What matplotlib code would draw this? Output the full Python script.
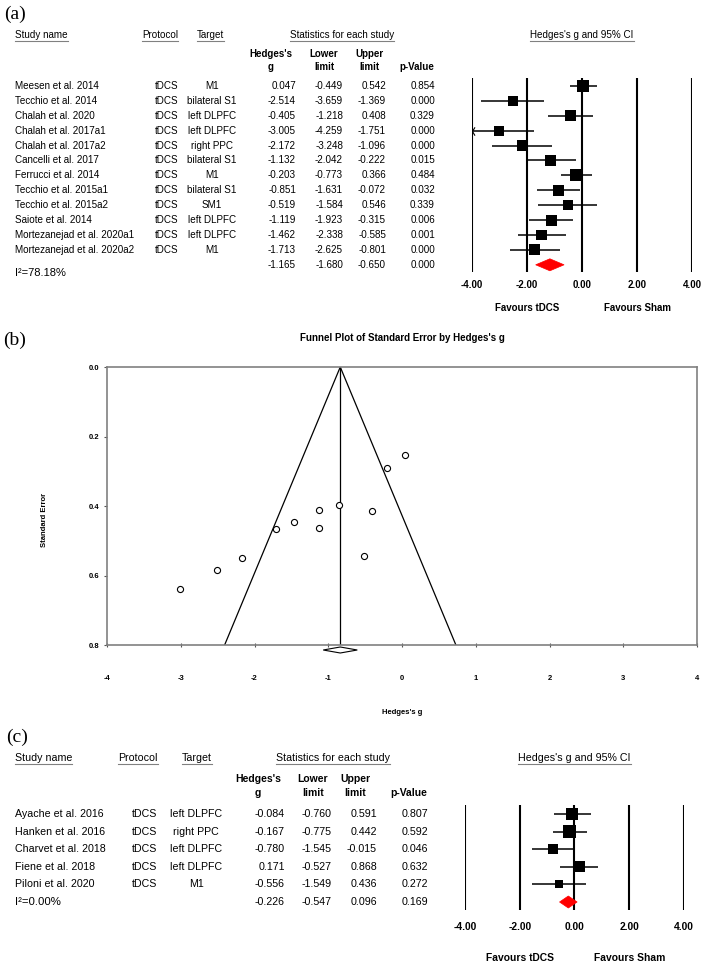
import numpy as np
import matplotlib
matplotlib.use("Agg")
import matplotlib.pyplot as plt
from matplotlib.path import Path
from matplotlib.patches import Polygon
from matplotlib.lines import Line2D

plt.rcParams['font.family'] = ['Liberation Sans', 'DejaVu Sans']

# ---------------- data: panel (a) ----------------
a_studies = ["Meesen et al. 2014", "Tecchio et al. 2014", "Chalah et al. 2020",
             "Chalah et al. 2017a1", "Chalah et al. 2017a2", "Cancelli et al. 2017",
             "Ferrucci et al. 2014", "Tecchio et al. 2015a1", "Tecchio et al. 2015a2",
             "Saiote et al. 2014", "Mortezanejad et al. 2020a1", "Mortezanejad et al. 2020a2"]
a_protocol = ["tDCS"] * 12
a_target = ["M1", "bilateral S1", "left DLPFC", "left DLPFC", "right PPC", "bilateral S1",
            "M1", "bilateral S1", "SM1", "left DLPFC", "left DLPFC", "M1"]
a_g = [0.047, -2.514, -0.405, -3.005, -2.172, -1.132, -0.203, -0.851, -0.519, -1.119, -1.462, -1.713]
a_lower = [-0.449, -3.659, -1.218, -4.259, -3.248, -2.042, -0.773, -1.631, -1.584, -1.923, -2.338, -2.625]
a_upper = [0.542, -1.369, 0.408, -1.751, -1.096, -0.222, 0.366, -0.072, 0.546, -0.315, -0.585, -0.801]
a_p = [0.854, 0.000, 0.329, 0.000, 0.000, 0.015, 0.484, 0.032, 0.339, 0.006, 0.001, 0.000]
a_summary = [-1.165, -1.680, -0.650, 0.000]   # g, lower, upper, p
a_i2 = "I\u00b2=78.18%"

# ---------------- data: panel (c) ----------------
c_studies = ["Ayache et al. 2016", "Hanken et al. 2016", "Charvet et al. 2018",
             "Fiene et al. 2018", "Piloni et al. 2020"]
c_protocol = ["tDCS"] * 5
c_target = ["left DLPFC", "right PPC", "left DLPFC", "left DLPFC", "M1"]
c_g = [-0.084, -0.167, -0.780, 0.171, -0.556]
c_lower = [-0.760, -0.775, -1.545, -0.527, -1.549]
c_upper = [0.591, 0.442, -0.015, 0.868, 0.436]
c_p = [0.807, 0.592, 0.046, 0.632, 0.272]
c_summary = [-0.226, -0.547, 0.096, 0.169]
c_i2 = "I\u00b2=0.00%"

forest_ticks = [-4, -2, 0, 2, 4]
favour_labels = ["Favours tDCS", "Favours Sham"]
favour_pos = [-2, 2]

funnel_xticks = [-4, -3, -2, -1, 0, 1, 2, 3, 4]
funnel_yticks = [0.0, 0.2, 0.4, 0.6, 0.8]

# ---------------- figure helpers ----------------
W, H = 707, 967
fig = plt.figure(figsize=(W / 100, H / 100), dpi=100)
underlined = []


def rect(x0, y0, x1, y1):
    return [x0 / W, 1 - y1 / H, (x1 - x0) / W, (y1 - y0) / H]


def ftext(x, y, s, underline=False, **kw):
    kw.setdefault('va', 'center')
    t = fig.text(x / W, 1 - y / H, s, **kw)
    if underline:
        underlined.append(t)
    return t


def re_weights(lower, upper):
    se = (np.array(upper) - np.array(lower)) / (2 * 1.96)
    v = se ** 2
    w = 1 / v
    return se, w


def dl_tau2(y, w):
    y = np.asarray(y)
    ybar = np.sum(w * y) / np.sum(w)
    Q = np.sum(w * (y - ybar) ** 2)
    C = np.sum(w) - np.sum(w ** 2) / np.sum(w)
    return max(0.0, (Q - (len(y) - 1)) / C)


chevron = Path([(0.6, 1), (0, 0), (0.6, -1)], [Path.MOVETO, Path.LINETO, Path.LINETO])


def forest_panel(studies, protocol, target, g, lower, upper, p, summary, i2, L):
    n = len(studies)
    r_top = (L['top'] - L['row0']) / L['step']
    r_bot = (L['bottom'] - L['row0']) / L['step']
    # table axes (x in pixel units)
    axt = fig.add_axes(rect(0, L['top'], W, L['bottom']))
    axt.set_xlim(0, W)
    axt.set_ylim(r_bot, r_top)
    axt.axis('off')
    fs = L['fs']
    for i in range(n):
        axt.text(L['name_x'], i, studies[i], ha='left', va='center', fontsize=fs)
        axt.text(L['prot_x'], i, protocol[i], ha='center', va='center', fontsize=fs)
        axt.text(L['targ_x'], i, target[i], ha='center', va='center', fontsize=fs)
        axt.text(L['g_x'], i, f"{g[i]:.3f}", ha='right', va='center', fontsize=fs)
        axt.text(L['lo_x'], i, f"{lower[i]:.3f}", ha='right', va='center', fontsize=fs)
        axt.text(L['up_x'], i, f"{upper[i]:.3f}", ha='right', va='center', fontsize=fs)
        axt.text(L['p_x'], i, f"{p[i]:.3f}", ha='right', va='center', fontsize=fs)
    for val, key in zip(summary, ['g_x', 'lo_x', 'up_x', 'p_x']):
        axt.text(L[key], n, f"{val:.3f}", ha='right', va='center', fontsize=fs)
    ftext(L['name_x'], L['i2_y'], i2, ha='left', fontsize=L['i2_fs'])

    # headers
    hy = L['head_y']
    ftext(L['name_x'], hy, "Study name", underline=True, ha='left', fontsize=fs)
    ftext(L['h_prot'], hy, "Protocol", underline=True, ha='left', fontsize=fs)
    ftext(L['h_targ'], hy, "Target", underline=True, ha='left', fontsize=fs)
    ftext(L['h_stats'], hy, "Statistics for each study", underline=True, ha='center', fontsize=fs)
    ftext((L['ax_x0'] + L['ax_x1']) / 2, hy, "Hedges's g and 95% CI", underline=True,
          ha='center', fontsize=fs)
    y1, y2 = L['ch_y1'], L['ch_y2']
    bfs = L['bfs']
    ftext(L['ch_g'], y1, "Hedges's", ha='center', fontsize=bfs, fontweight='bold')
    ftext(L['ch_g'], y2, "g", ha='center', fontsize=bfs, fontweight='bold')
    ftext(L['ch_lo'], y1, "Lower", ha='center', fontsize=bfs, fontweight='bold')
    ftext(L['ch_lo'], y2, "limit", ha='center', fontsize=bfs, fontweight='bold')
    ftext(L['ch_up'], y1, "Upper", ha='center', fontsize=bfs, fontweight='bold')
    ftext(L['ch_up'], y2, "limit", ha='center', fontsize=bfs, fontweight='bold')
    ftext(L['p_x'] - 1, y2, "p-Value", ha='right', fontsize=bfs, fontweight='bold')

    # forest axes
    ax = fig.add_axes(rect(L['ax_x0'], L['top'], L['ax_x1'], L['bottom']))
    ax.set_xlim(forest_ticks[0], forest_ticks[-1])
    ax.set_ylim(r_bot, r_top)
    for s in ax.spines.values():
        s.set_visible(False)
    ax.set_yticks([])
    for t in forest_ticks:
        ax.axvline(t, color='black', lw=1.5, zorder=1)
    ax.set_xticks(forest_ticks, labels=[f"{t:.2f}" for t in forest_ticks],
                  fontweight='bold', fontsize=L['tick_fs'])
    ax.tick_params(axis='x', length=0, pad=L['tick_pad'])
    ax.patch.set_alpha(0)

    se, w = re_weights(lower, upper)
    tau2 = dl_tau2(g, w)
    wr = 1 / (se ** 2 + tau2)
    side_pt = L['max_side'] * 0.72
    sizes = wr / wr.max() * side_pt ** 2
    xmin = forest_ticks[0]
    for i in range(n):
        lo = max(lower[i], xmin)
        ax.plot([lo, upper[i]], [i, i], color='black', lw=1.1, zorder=2, solid_capstyle='butt')
        if lower[i] < xmin:
            ax.plot([xmin], [i], marker=chevron, markersize=6, color='black',
                    fillstyle='none', mew=0.8, zorder=3, clip_on=False)
    ax.scatter(g, np.arange(n), s=sizes, marker='s', color='black', zorder=3,
               linewidths=0)
    hh = L['dia_h'] / L['step']
    sg, slo, sup = summary[0], summary[1], summary[2]
    ax.add_patch(Polygon([(slo, n), (sg, n - hh), (sup, n), (sg, n + hh)], closed=True,
                         facecolor='#ff0000', edgecolor='#ff0000', lw=0.5, zorder=4))
    fav_y = (L['bottom'] - L['fav_y']) / (L['bottom'] - L['top'])
    for lab, xp in zip(favour_labels, favour_pos):
        ax.text(xp, fav_y, lab, transform=ax.get_xaxis_transform(), ha='center',
                va='center', fontsize=L['tick_fs'], fontweight='bold')
    ftext(L['lab_x'], L['lab_y'], L['label'], ha='left', fontsize=14,
          family=['Liberation Serif', 'DejaVu Serif'])


LA = dict(top=78, bottom=272, row0=86, step=14.9, ax_x0=471.7, ax_x1=692.3,
          name_x=15, prot_x=167, targ_x=212, g_x=296, lo_x=343, up_x=386, p_x=435,
          head_y=35, h_prot=142, h_targ=197, h_stats=342,
          ch_y1=54, ch_y2=67, ch_g=271, ch_lo=324, ch_up=369,
          i2_y=273, fs=7.1, bfs=7.0, i2_fs=8, tick_fs=7.0, tick_pad=6.0, fav_y=308,
          max_side=12, dia_h=6, lab_x=4, lab_y=14, label="(a)")
forest_panel(a_studies, a_protocol, a_target, a_g, a_lower, a_upper, a_p, a_summary, a_i2, LA)

LC = dict(top=805, bottom=910, row0=814, step=17.6, ax_x0=465, ax_x1=684,
          name_x=15, prot_x=145, targ_x=196, g_x=285, lo_x=332, up_x=377, p_x=428,
          head_y=758, h_prot=118, h_targ=182, h_stats=333,
          ch_y1=779, ch_y2=793, ch_g=258, ch_lo=313, ch_up=355,
          i2_y=902, fs=7.7, bfs=7.5, i2_fs=8.2, tick_fs=7.4, tick_pad=8.5, fav_y=958,
          max_side=13, dia_h=6, lab_x=6, lab_y=737, label="(c)")
forest_panel(c_studies, c_protocol, c_target, c_g, c_lower, c_upper, c_p, c_summary, c_i2, LC)

# ---------------- panel (b): funnel plot ----------------
axf = fig.add_axes(rect(107, 367, 697, 645))
se_a, w_a = re_weights(a_lower, a_upper)
g_a = np.array(a_g)
center = np.sum(w_a * g_a) / np.sum(w_a)
se_center = 1 / np.sqrt(np.sum(w_a))
ymax = funnel_yticks[-1]
axf.set_xlim(funnel_xticks[0], funnel_xticks[-1])
axf.set_ylim(ymax, funnel_yticks[0])
axf.plot([center, center], [0, ymax], color='black', lw=0.9)
axf.plot([center - 1.96 * ymax, center, center + 1.96 * ymax], [ymax, 0, ymax],
         color='black', lw=0.9)
axf.plot(g_a, se_a, linestyle='none', marker='o', markersize=4.4, mfc='white',
         mec='black', mew=0.8, zorder=3)
px = ymax / (645 - 367)
dy0 = ymax + 5 * px
dh = 3 * px
axf.add_patch(Polygon([(center - 1.96 * se_center, dy0), (center, dy0 - dh),
                       (center + 1.96 * se_center, dy0), (center, dy0 + dh)], closed=True,
                      facecolor='white', edgecolor='black', lw=0.8, clip_on=False, zorder=4))
for s in axf.spines.values():
    s.set_color('#808080')
    s.set_linewidth(1.2)
axf.set_xticks(funnel_xticks, labels=[f"{t:d}" for t in funnel_xticks],
               fontweight='bold', fontsize=5.5)
axf.set_yticks(funnel_yticks, labels=[f"{t:.1f}" for t in funnel_yticks],
               fontweight='bold', fontsize=5.5)
axf.tick_params(axis='x', direction='inout', length=3, width=0.8, color='#555555', pad=20)
axf.tick_params(axis='y', direction='out', length=2.5, width=0.8, color='#555555', pad=3)
axf.set_xlabel("Hedges's g", fontsize=5.5, fontweight='bold')
axf.xaxis.set_label_coords(0.5, -(709 - 645) / (645 - 367))
axf.set_ylabel("Standard Error", fontsize=5.5, fontweight='bold')
axf.yaxis.set_label_coords(-(107 - 48) / (697 - 107), (645 - 520) / (645 - 367))
axf.text(0.5, 1 + (367 - 338) / (645 - 367), "Funnel Plot of Standard Error by Hedges's g",
         transform=axf.transAxes, ha='center', va='center', fontsize=7, fontweight='bold')
ftext(3, 340, "(b)", ha='left', fontsize=14, family=['Liberation Serif', 'DejaVu Serif'])

# ---------------- underlines ----------------
fig.canvas.draw()
rend = fig.canvas.get_renderer()
inv = fig.transFigure.inverted()
for t in underlined:
    bb = t.get_window_extent(rend)
    (x0, y0), (x1, y1) = inv.transform([(bb.x0, bb.y0), (bb.x1, bb.y1)])
    fig.add_artist(Line2D([x0, x1], [y0 - 0.5 / H, y0 - 0.5 / H], transform=fig.transFigure,
                          color='#808080', lw=0.8))

fig.savefig("out.png", dpi=100)
